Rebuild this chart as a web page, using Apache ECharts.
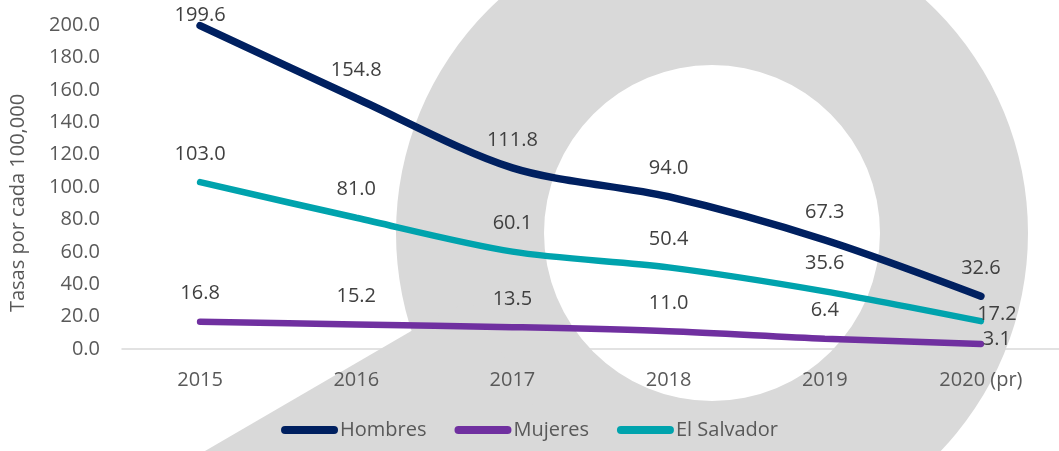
<!DOCTYPE html>
<html>
<head>
<meta charset="utf-8">
<script src="https://cdn.jsdelivr.net/npm/echarts@6/dist/echarts.min.js"></script>
<style>
  html, body { margin: 0; padding: 0; background: #fff; }
  #chart { width: 1059px; height: 451px; }
</style>
</head>
<body>
<div id="chart"></div>
<script>
const years = ['2015', '2016', '2017', '2018', '2019', '2020 (pr)']
const hombres = [199.6, 154.8, 111.8, 94.0, 67.3, 32.6]
const mujeres = [16.8, 15.2, 13.5, 11.0, 6.4, 3.1]
const elSalvador = [103.0, 81.0, 60.1, 50.4, 35.6, 17.2]

const font = '"Open Sans", "Noto Sans", sans-serif'
const legendIcon = 'path://M4,0 L53,0 A4,4 0 0 1 53,8 L4,8 A4,4 0 0 1 4,0 Z'

// labels sit above the point; the first and last points are nudged like the original
const labelled = (values, special) =>
  values.map((v, i) => (special[i] ? { value: v, label: special[i] } : v))

const myChart = echarts.init(document.getElementById('chart'))

myChart.setOption({
  backgroundColor: '#fff',
  animation: false,
  graphic: [
    {
      type: 'ring',
      z: -10,
      silent: true,
      shape: { cx: 712, cy: 233, r: 316, r0: 168 },
      style: { fill: '#d9d9d9' },
    },
    {
      type: 'polygon',
      z: -10,
      silent: true,
      shape: { points: [[205, 451], [425, 323], [470, 300], [560, 451]] },
      style: { fill: '#d9d9d9' },
    },
  ],
  grid: { left: 121, top: 25, width: 948, height: 324 },
  legend: {
    bottom: 6,
    left: 'center',
    itemWidth: 57,
    itemHeight: 8,
    itemGap: 28,
    icon: legendIcon,
    textStyle: { color: '#595959', fontSize: 20, fontFamily: font, padding: [0, 0, 0, -3] },
    data: ['Hombres', 'Mujeres', 'El Salvador'],
  },
  xAxis: {
    type: 'category',
    data: years,
    axisLine: { lineStyle: { color: '#d9d9d9', width: 1.5 } },
    axisTick: { show: false },
    axisLabel: { color: '#595959', fontSize: 20, fontFamily: font, margin: 21 },
  },
  yAxis: {
    type: 'value',
    min: 0,
    max: 200,
    interval: 20,
    name: 'Tasas por cada 100,000',
    nameLocation: 'middle',
    nameGap: 94,
    nameTextStyle: { color: '#595959', fontSize: 20, fontFamily: font, padding: [0, 32, 0, 0] },
    axisLine: { show: false },
    axisTick: { show: false },
    splitLine: { show: false },
    axisLabel: {
      color: '#595959',
      fontSize: 20,
      fontFamily: font,
      margin: 22,
      formatter: (v) => v.toFixed(1),
    },
  },
  series: [
    {
      name: 'Hombres',
      type: 'line',
      smooth: 0.3,
      color: '#002060',
      lineStyle: { width: 7.5, cap: 'round' },
      data: labelled(hombres, { 0: { distance: 0 } }),
    },
    {
      name: 'Mujeres',
      type: 'line',
      smooth: 0.3,
      color: '#7030a0',
      lineStyle: { width: 6.5, cap: 'round' },
      data: labelled(mujeres, { 5: { distance: 0, offset: [16, 5] } }),
    },
    {
      name: 'El Salvador',
      type: 'line',
      smooth: 0.3,
      color: '#00a3ad',
      lineStyle: { width: 6.5, cap: 'round' },
      data: labelled(elSalvador, { 5: { distance: 0, offset: [16, 3] } }),
    },
  ].map((s) => ({
    ...s,
    symbol: 'circle',
    symbolSize: 0.1,
    showSymbol: true,
    label: {
      show: true,
      position: 'top',
      distance: 18,
      color: '#404040',
      fontSize: 20,
      fontFamily: font,
      formatter: (p) => p.value.toFixed(1),
    },
  })),
})

window.addEventListener('resize', () => {
  myChart.resize()
})
</script>
</body>
</html>
